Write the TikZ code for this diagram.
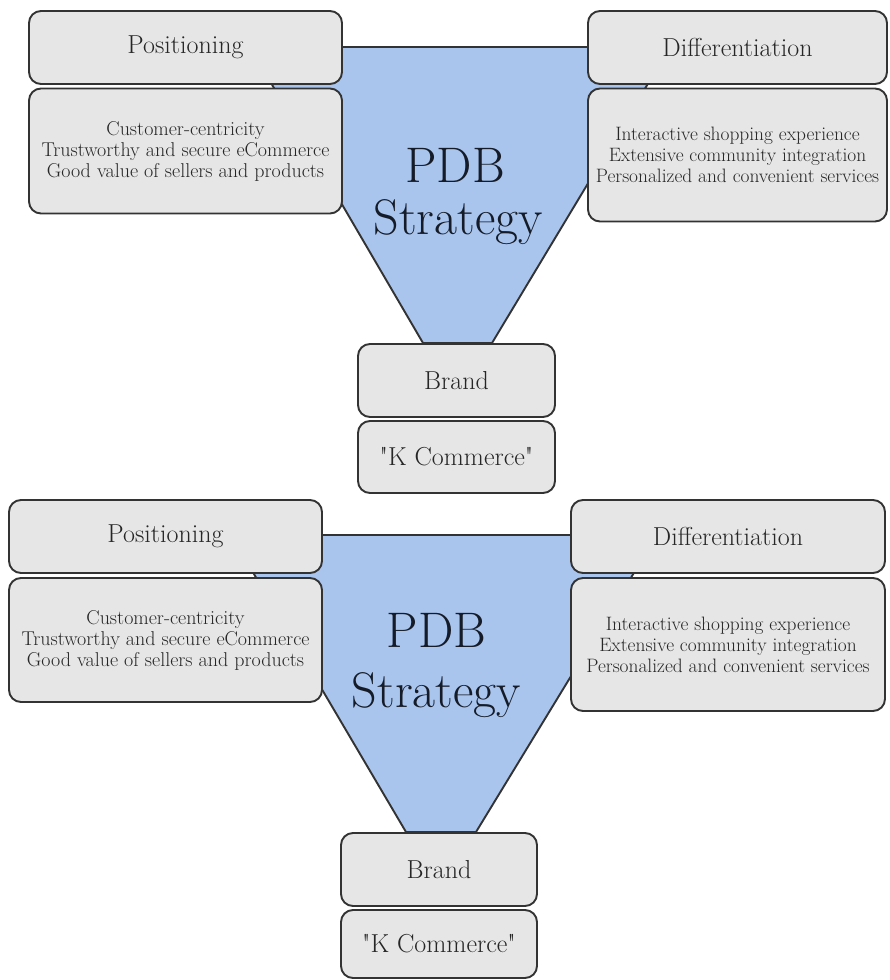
\documentclass[tikz,border=0pt]{standalone}
\usepackage[]{xcolor}
\usepackage{tikz}

\definecolor{cardfill}{HTML}{E6E6E6}
\definecolor{cardline}{HTML}{333333}
\definecolor{funnelfill}{HTML}{A9C5EE}
\definecolor{cardtext}{HTML}{262626}
\definecolor{titletext}{HTML}{151C28}

\tikzset{
        card/.style={draw=cardline, line width=1.9pt, fill=cardfill, rounded corners=12pt,
                inner sep=0pt, text=cardtext},
        headtext/.style={font=\fontsize{26}{28}\selectfont},
        listtext/.style={font=\fontsize{20}{21}\selectfont, align=center},
        funnel/.style={draw=cardline, line width=1.9pt, fill=funnelfill},
        bigtext/.style={font=\fontsize{50}{54}\selectfont, text=titletext, anchor=base, inner sep=0pt}
}

\begin{document}
\begin{tikzpicture}[x=1pt,y=-1pt]
        \useasboundingbox (0,0) rectangle (889,980);

        \draw[funnel] (250,47) -- (670,47) -- (492,343) -- (423,343) -- cycle;
        \node[card, headtext, minimum width=313pt, minimum height=73pt] (posA)  at (185.5,47.5)  {Positioning};
        \node[card, listtext, minimum width=313pt, minimum height=125pt] (posAtxt) at (185.5,151)
                {Customer-centricity\\Trustworthy and secure eCommerce\\Good value of sellers and products};
        \node[card, headtext, minimum width=299pt, minimum height=73pt] (difA)  at (737.5,47.5)  {Differentiation};
        \node[card, listtext, font=\fontsize{19.4}{21}\selectfont, minimum width=299pt, minimum height=133pt] (difAtxt) at (737.5,155)
                {Interactive shopping experience\\Extensive community integration\\Personalized and convenient services};
        \node[card, headtext, minimum width=197pt, minimum height=73pt] (brandA) at (456.5,380.5) {Brand};
        \node[card, headtext, minimum width=197pt, minimum height=72pt] (nameA)  at (456.5,457)   {\textquotedbl K Commerce\textquotedbl};
        \node[bigtext] (pdbA)   at (455,182) {PDB};
        \node[bigtext] (stratA) at (458,234) {Strategy};

        \draw[funnel] (231,535) -- (657,535) -- (476,832) -- (406,832) -- cycle;
        \node[card, headtext, minimum width=313pt, minimum height=73pt] (posB)  at (165.5,536.5) {Positioning};
        \node[card, listtext, minimum width=313pt, minimum height=124pt] (posBtxt) at (165.5,640)
                {Customer-centricity\\Trustworthy and secure eCommerce\\Good value of sellers and products};
        \node[card, headtext, minimum width=314pt, minimum height=73pt] (difB)  at (728,536.5)   {Differentiation};
        \node[card, listtext, font=\fontsize{19.4}{21}\selectfont, minimum width=314pt, minimum height=133pt] (difBtxt) at (728,644.5)
                {Interactive shopping experience\\Extensive community integration\\Personalized and convenient services};
        \node[card, headtext, minimum width=196pt, minimum height=73pt] (brandB) at (439,869.5) {Brand};
        \node[card, headtext, minimum width=196pt, minimum height=68pt] (nameB)  at (439,944)   {\textquotedbl K Commerce\textquotedbl};
        \node[bigtext] (pdbB)   at (436.5,647) {PDB};
        \node[bigtext] (stratB) at (436.5,707) {Strategy};
\end{tikzpicture}
\end{document}
